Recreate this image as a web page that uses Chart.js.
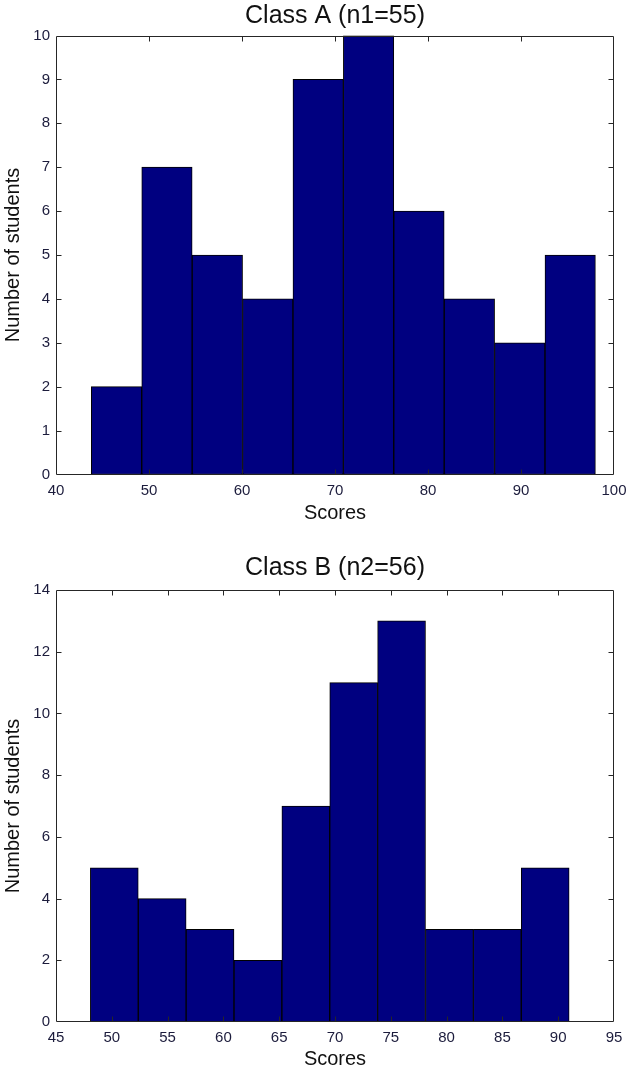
<!DOCTYPE html>
<html>
<head>
<meta charset="utf-8">
<script src="https://cdn.jsdelivr.net/npm/chart.js@4.4.1/dist/chart.umd.min.js"></script>
<style>
  html, body { margin: 0; padding: 0; background: #ffffff; overflow: hidden; }
  #wrap { position: relative; width: 630px; height: 1071px; }
  .box { position: absolute; left: 0; width: 630px; }
  #boxA { top: 0; height: 535px; }
  #boxB { top: 535px; height: 536px; }
</style>
</head>
<body>
<div id="wrap">
  <div class="box" id="boxA"><canvas id="chartA"></canvas></div>
  <div class="box" id="boxB"><canvas id="chartB"></canvas></div>
</div>
<script>
// ---- Data ----
const titleA = "Class A (n1=55)";
const titleB = "Class B (n2=56)";
const xLabel = "Scores";
const yLabel = "Number of students";

// Class A: bin centres (scores) and counts
const binCentersA = [46.51, 51.93, 57.35, 62.77, 68.19, 73.61, 79.03, 84.45, 89.87, 95.29];
const countsA     = [2, 7, 5, 4, 9, 10, 6, 4, 3, 5];
const xTicksA = [40, 50, 60, 70, 80, 90, 100];
const yTicksA = [0, 1, 2, 3, 4, 5, 6, 7, 8, 9, 10];

// Class B: bin centres (scores) and counts
const binCentersB = [50.225, 54.515, 58.805, 63.095, 67.385, 71.675, 75.965, 80.255, 84.545, 88.835];
const countsB     = [5, 4, 3, 2, 7, 11, 13, 3, 3, 5];
const xTicksB = [45, 50, 55, 60, 65, 70, 75, 80, 85, 90, 95];
const yTicksB = [0, 2, 4, 6, 8, 10, 12, 14];

// ---- Styling ----
const FONT = "'Liberation Sans', Arial, Helvetica, sans-serif";
const BAR_FILL = '#000080';
const BAR_EDGE = '#000000';
const AXIS_COLOR = '#262626';
const TICK_TEXT = '#1c1c3c';

// Frame + inward tick marks on all four sides, positioned by the chart's scales
const framePlugin = {
  id: 'matlabFrame',
  afterDraw(chart) {
    const { ctx, chartArea: a, scales } = chart;
    const L = Math.round(a.left) + 0.5, R = Math.round(a.right) - 0.5;
    const T = Math.round(a.top) + 0.5, B = Math.round(a.bottom) - 0.5;
    const len = 5;
    ctx.save();
    ctx.strokeStyle = AXIS_COLOR;
    ctx.lineWidth = 1;
    ctx.beginPath();
    scales.x.ticks.forEach(t => {
      const px = Math.round(scales.x.getPixelForValue(t.value)) + 0.5;
      if (px <= L + 1 || px >= R - 1) return;
      ctx.moveTo(px, B); ctx.lineTo(px, B - len);
      ctx.moveTo(px, T); ctx.lineTo(px, T + len);
    });
    scales.y.ticks.forEach(t => {
      const py = Math.round(scales.y.getPixelForValue(t.value)) + 0.5;
      if (py <= T + 1 || py >= B - 1) return;
      ctx.moveTo(L, py); ctx.lineTo(L + len, py);
      ctx.moveTo(R, py); ctx.lineTo(R - len, py);
    });
    ctx.stroke();
    ctx.beginPath();
    ctx.rect(L, T, R - L, B - T);
    ctx.stroke();
    ctx.restore();
  }
};

function makeHist(canvasId, cfg) {
  const data = cfg.centers.map((c, i) => ({ x: c, y: cfg.counts[i] }));
  const xMin = cfg.xTicks[0], xMax = cfg.xTicks[cfg.xTicks.length - 1];
  return new Chart(document.getElementById(canvasId), {
    type: 'bar',
    data: {
      datasets: [{
        data: data,
        xAxisID: 'x',
        yAxisID: 'y',
        backgroundColor: BAR_FILL,
        borderColor: BAR_EDGE,
        borderWidth: 1,
        barPercentage: 1.0,
        categoryPercentage: 1.0,
        borderSkipped: false
      }]
    },
    options: {
      responsive: true,
      maintainAspectRatio: false,
      animation: false,
      events: [],
      layout: { padding: { left: 0, right: 16, top: 0, bottom: 0 } },
      plugins: {
        legend: { display: false },
        tooltip: { enabled: false },
        title: { display: false }
      },
      scales: {
        x: {
          type: 'linear',
          position: 'bottom',
          offset: false,
          min: xMin,
          max: xMax,
          afterBuildTicks: s => { s.ticks = cfg.xTicks.map(v => ({ value: v })); },
          afterFit: s => { s.height = cfg.xHeight; s.paddingLeft = 0; s.paddingRight = 0; },
          grid: { display: false, drawTicks: false },
          border: { display: false },
          ticks: {
            color: TICK_TEXT,
            font: { family: FONT, size: 15 },
            padding: 7,
            maxRotation: 0,
            autoSkip: false
          },
          title: {
            display: true,
            text: xLabel,
            color: '#111111',
            font: { family: FONT, size: 20, lineHeight: 1.2 },
            padding: { top: 0, bottom: cfg.xTitleBottom }
          }
        },
        // top axis carries the panel title so it is centred over the plot area
        xTop: {
          type: 'linear',
          axis: 'x',
          position: 'top',
          offset: false,
          min: xMin,
          max: xMax,
          afterFit: s => { s.height = cfg.topHeight; s.paddingLeft = 0; s.paddingRight = 0; },
          grid: { display: false, drawTicks: false },
          border: { display: false },
          ticks: { display: false },
          title: {
            display: true,
            text: cfg.title,
            color: '#111111',
            font: { family: FONT, size: 25, lineHeight: 1.2 },
            padding: { top: cfg.titleTop, bottom: 0 }
          }
        },
        y: {
          type: 'linear',
          min: cfg.yTicks[0],
          max: cfg.yTicks[cfg.yTicks.length - 1],
          afterBuildTicks: s => { s.ticks = cfg.yTicks.map(v => ({ value: v })); },
          afterFit: s => { s.width = 56; s.paddingTop = 0; s.paddingBottom = 0; },
          grid: { display: false, drawTicks: false },
          border: { display: false },
          ticks: {
            color: TICK_TEXT,
            font: { family: FONT, size: 15 },
            padding: 6,
            autoSkip: false
          },
          title: {
            display: true,
            text: yLabel,
            color: '#111111',
            font: { family: FONT, size: 20, lineHeight: 1.2 },
            padding: { top: 1, bottom: 0 }
          }
        }
      }
    },
    plugins: [framePlugin]
  });
}

makeHist('chartA', {
  title: titleA, centers: binCentersA, counts: countsA,
  xTicks: xTicksA, yTicks: yTicksA,
  topHeight: 35.5, titleTop: 1.5,
  xHeight: 60.5, xTitleBottom: 10
});
makeHist('chartB', {
  title: titleB, centers: binCentersB, counts: countsB,
  xTicks: xTicksB, yTicks: yTicksB,
  topHeight: 55, titleTop: 18,
  xHeight: 49, xTitleBottom: 0
});
</script>
</body>
</html>
